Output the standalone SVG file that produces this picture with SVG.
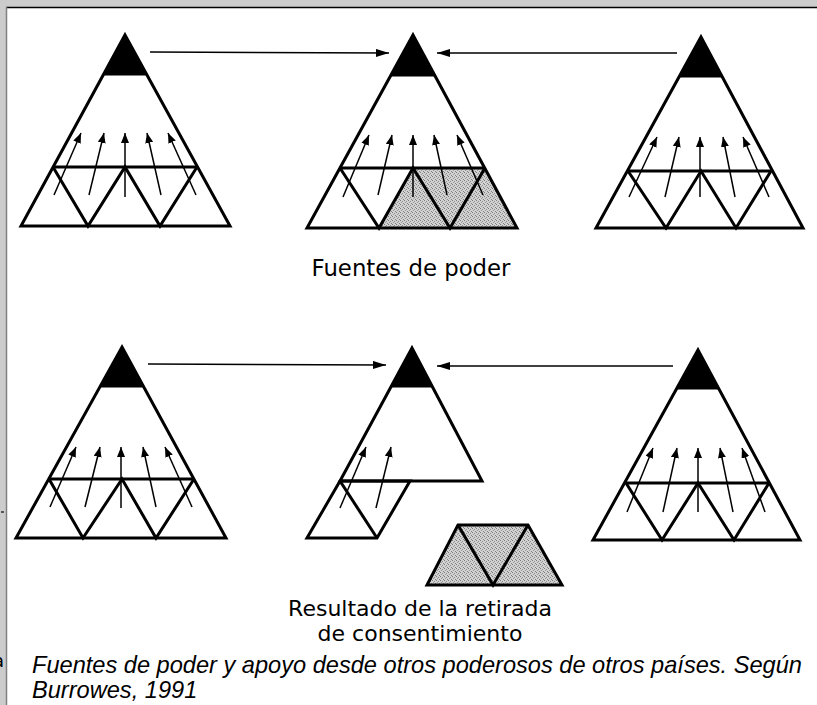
<svg xmlns="http://www.w3.org/2000/svg" width="817" height="705" viewBox="0 0 817 705">
<style>
.tri{fill:none;stroke:#000;stroke-width:3;stroke-linejoin:miter}
.tip{fill:#000;stroke:#000;stroke-width:1}
.shade{fill:url(#stipple);stroke:none}
.up{stroke:#000;stroke-width:1.5;fill:none;marker-end:url(#ah)}
.conn{stroke:#000;stroke-width:1.6;fill:none;marker-end:url(#ahbig)}
.lbl{font-family:"DejaVu Sans",sans-serif;font-size:22px;fill:#000;text-anchor:middle}
.cap{font-family:"Liberation Sans",Arial,sans-serif;font-style:italic;font-size:23.6px;fill:#000}
</style>
<defs>
<pattern id="stipple" width="4" height="4" patternUnits="userSpaceOnUse">
<rect width="4" height="4" fill="#d2d2d2"/>
<rect x="0" y="0" width="1" height="1" fill="#7a7a7a"/>
<rect x="2" y="1" width="1" height="1" fill="#8a8a8a"/>
<rect x="1" y="2" width="1" height="1" fill="#9a9a9a"/>
<rect x="3" y="3" width="1" height="1" fill="#808080"/>
</pattern>
<marker id="ah" markerUnits="userSpaceOnUse" markerWidth="12" markerHeight="10" refX="10" refY="4" orient="auto">
<path d="M0,0 L10,4 L0,8 z" fill="#000"/>
</marker>
<marker id="ahbig" markerUnits="userSpaceOnUse" markerWidth="14" markerHeight="10" refX="13" refY="4" orient="auto">
<path d="M0,0 L13,4 L0,8 z" fill="#000"/>
</marker>
</defs>
<rect x="0" y="0" width="817" height="705" fill="#cccccc"/>
<line x1="1" y1="512" x2="4" y2="512" stroke="#333" stroke-width="1.5"/>
<text x="-7" y="667" style="font-family:'DejaVu Sans',sans-serif;font-size:18px;fill:#000">a</text>
<rect x="7" y="8" width="810" height="697" fill="#fff"/>
<line x1="6" y1="7.5" x2="817" y2="7.5" stroke="#000" stroke-width="1.5"/>
<line x1="6.5" y1="7" x2="6.5" y2="705" stroke="#808080" stroke-width="1.5"/>

<g id="pyramid-top-left">
<polygon class="tip" points="125,35 147,75 103,75"/>
<polygon class="tri" points="125,35 230,226 21,226"/>
<polyline class="tri" points="53,167 197,167"/>
<polyline class="tri" points="53,167 88,226 125,167 160,226 197,167"/>
<line class="up" x1="54" y1="195" x2="81" y2="133"/>
<line class="up" x1="89" y1="195" x2="104" y2="133"/>
<line class="up" x1="125" y1="197" x2="125" y2="133"/>
<line class="up" x1="161" y1="195" x2="147" y2="133"/>
<line class="up" x1="196" y1="195" x2="168" y2="133"/>
</g>

<g id="pyramid-top-middle">
<polygon class="shade" points="379,228 413,168 485,168 517,228"/>
<polygon class="tip" points="413,35 435,76 391,76"/>
<polygon class="tri" points="413,35 517,228 307,228"/>
<polyline class="tri" points="340,168 485,168"/>
<polyline class="tri" points="340,168 379,228 413,168 450,228 485,168"/>
<line class="up" x1="343" y1="197" x2="369" y2="135"/>
<line class="up" x1="378" y1="195" x2="392" y2="135"/>
<line class="up" x1="413" y1="197" x2="413" y2="135"/>
<line class="up" x1="447" y1="195" x2="434" y2="135"/>
<line class="up" x1="483" y1="195" x2="457" y2="135"/>
</g>

<g id="pyramid-top-right">
<polygon class="tip" points="701,37 722,77 680,77"/>
<polygon class="tri" points="701,37 803,228 596,228"/>
<polyline class="tri" points="628,171 771,171"/>
<polyline class="tri" points="628,171 666,228 701,171 736,228 771,171"/>
<line class="up" x1="629" y1="197" x2="657" y2="137"/>
<line class="up" x1="665" y1="197" x2="679" y2="137"/>
<line class="up" x1="700" y1="197" x2="700" y2="137"/>
<line class="up" x1="735" y1="197" x2="723" y2="137"/>
<line class="up" x1="769" y1="197" x2="743" y2="137"/>
</g>

<g id="label-fuentes">
<text class="lbl" x="411" y="276" style="font-size:22.8px">Fuentes de poder</text>
</g>

<g id="pyramid-bottom-left">
<polygon class="tip" points="122,347 144,387 100,387"/>
<polygon class="tri" points="122,347 226,538 16,538"/>
<polyline class="tri" points="49,479 194,479"/>
<polyline class="tri" points="49,479 83,538 122,479 156,538 194,479"/>
<line class="up" x1="50" y1="507" x2="76" y2="447"/>
<line class="up" x1="85" y1="507" x2="100" y2="447"/>
<line class="up" x1="121" y1="508" x2="121" y2="447"/>
<line class="up" x1="156" y1="507" x2="143" y2="447"/>
<line class="up" x1="192" y1="507" x2="165" y2="447"/>
</g>

<g id="pyramid-bottom-middle">
<polygon class="tip" points="412,348 432,387 391,387"/>
<polygon class="tri" points="412,348 482,481 340,481"/>
<polygon class="tri" points="340,481 410,481 377,538 307,538"/>
<line class="tri" x1="340" y1="481" x2="377" y2="538"/>
<line class="up" x1="340" y1="508" x2="366" y2="447"/>
<line class="up" x1="376" y1="508" x2="391" y2="447"/>
</g>

<g id="withdrawn-sources">
<polygon class="shade" points="458,525 528,525 562,585 427,585"/>
<polygon class="tri" points="458,525 528,525 562,585 427,585"/>
<polyline class="tri" points="458,525 493,585 528,525"/>
</g>

<g id="pyramid-bottom-right">
<polygon class="tip" points="698,350 719,389 676,389"/>
<polygon class="tri" points="698,350 800,540 593,540"/>
<polyline class="tri" points="626,483 769,483"/>
<polyline class="tri" points="626,483 662,540 698,483 734,540 769,483"/>
<line class="up" x1="627" y1="512" x2="653" y2="448"/>
<line class="up" x1="663" y1="512" x2="677" y2="448"/>
<line class="up" x1="698" y1="512" x2="698" y2="448"/>
<line class="up" x1="733" y1="512" x2="720" y2="448"/>
<line class="up" x1="765" y1="512" x2="742" y2="448"/>
</g>

<g id="connectors">
<line class="conn" x1="150" y1="52" x2="389" y2="53"/>
<line class="conn" x1="677" y1="53" x2="437" y2="53"/>
<line class="conn" x1="148" y1="364" x2="386" y2="365"/>
<line class="conn" x1="673" y1="366" x2="437" y2="366"/>
</g>

<g id="label-resultado">
<text class="lbl" x="420" y="616">Resultado de la retirada</text>
<text class="lbl" x="420" y="641">de consentimiento</text>
</g>

<g id="caption">
<text class="cap" x="32" y="673">Fuentes de poder y apoyo desde otros poderosos de otros países. Según</text>
<text class="cap" x="32" y="698">Burrowes, 1991</text>
</g>
</svg>
